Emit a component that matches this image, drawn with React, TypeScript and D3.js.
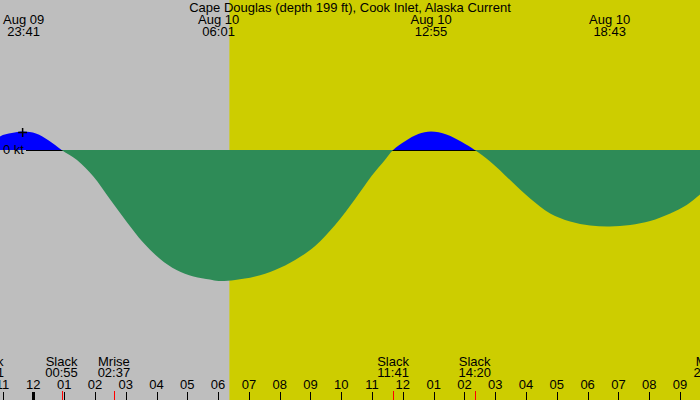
import React from 'react';
import * as d3 from 'd3';

const TITLE = "Cape Douglas (depth 199 ft), Cook Inlet, Alaska Current";

// visible time window and daylight
const WINDOW = ["08-09 22:55", "08-10 21:39"];
const SUNRISE = "08-10 06:22";
const SUNSET = "08-10 22:05";

// current speed (kt, flood positive)
const speedTimes = [
  "08-09 22:31", "08-09 22:55", "08-09 23:18", "08-09 23:41", "08-10 00:05",
  "08-10 00:30", "08-10 00:55", "08-10 01:25", "08-10 01:57", "08-10 02:29",
  "08-10 03:02", "08-10 03:34", "08-10 04:07", "08-10 04:39", "08-10 05:12",
  "08-10 05:44", "08-10 06:01", "08-10 06:33", "08-10 07:12", "08-10 07:51",
  "08-10 08:30", "08-10 09:09", "08-10 09:48", "08-10 10:27", "08-10 10:59",
  "08-10 11:25", "08-10 11:41", "08-10 12:05", "08-10 12:30", "08-10 12:55",
  "08-10 13:25", "08-10 13:55", "08-10 14:20", "08-10 14:50", "08-10 15:29",
  "08-10 16:08", "08-10 16:47", "08-10 17:26", "08-10 18:05", "08-10 18:43",
  "08-10 19:23", "08-10 20:02", "08-10 20:41", "08-10 21:13", "08-10 21:39",
  "08-10 22:10",
];
const speedValues = [
  0, 0.27, 0.34, 0.37, 0.33,
  0.19, 0, -0.20, -0.53, -0.98,
  -1.44, -1.85, -2.18, -2.40, -2.53,
  -2.59, -2.62, -2.60, -2.53, -2.40,
  -2.20, -1.92, -1.50, -0.98, -0.52,
  -0.20, 0, 0.18, 0.32, 0.37,
  0.31, 0.16, 0, -0.23, -0.60,
  -0.97, -1.27, -1.43, -1.51, -1.53,
  -1.50, -1.42, -1.27, -1.10, -0.89,
  -0.62,
];

// max flood / max ebb labels along the top
const peakTimes = ["08-09 23:41", "08-10 06:01", "08-10 12:55", "08-10 18:43"];
const peakDays = ["Aug 09", "Aug 10", "Aug 10", "Aug 10"];

// slack water and moon events along the bottom
const eventTimes = ["08-09 22:31", "08-10 00:55", "08-10 02:37", "08-10 11:41", "08-10 14:20", "08-10 21:58"];
const eventNames = ["Slack", "Slack", "Mrise", "Slack", "Slack", "Mset"];

const parse = d3.utcParse("%m-%d %H:%M");
const hm = d3.utcFormat("%H:%M");
const hourFmt = d3.utcFormat("%I");

const W = 700;
const H = 400;
const FONT = "Liberation Sans, Arial, sans-serif";

export default function App() {
  const x = d3.scaleUtc()
    .domain(WINDOW.map(s => parse(s)!))
    .range([0, W]);
  const y = d3.scaleLinear().domain([1, -3]).range([100, 300]);
  const y0 = y(0);

  const pts = speedTimes.map((t, i) => ({ t: parse(t)!, v: speedValues[i] }));
  const area = d3.area<{ t: Date; v: number }>()
    .x(d => x(d.t))
    .y0(y0)
    .y1(d => y(d.v))
    .curve(d3.curveCatmullRom.alpha(0.5));
  const areaPath = area(pts) || "";

  const hours = x.ticks(d3.utcHour.every(1)!);
  const dayX0 = x(parse(SUNRISE)!);
  const dayX1 = Math.min(W, x(parse(SUNSET)!));

  const firstPeak = parse(peakTimes[0])!;
  const firstPeakV = speedValues[speedTimes.indexOf(peakTimes[0])];
  const px0 = x(firstPeak) - 1;
  const py0 = y(firstPeakV) + 1;

  return (
    <svg width={W} height={H} style={{ position: "absolute", left: 0, top: 0, display: "block" }}
      fontFamily={FONT} fontSize={13}>
      <defs>
        <clipPath id="flood"><rect x={0} y={0} width={W} height={y0} /></clipPath>
        <clipPath id="ebb"><rect x={0} y={y0} width={W} height={H - y0} /></clipPath>
      </defs>
      <rect x={0} y={0} width={W} height={H} fill="#bebebe" />
      <rect x={dayX0} y={0} width={dayX1 - dayX0} height={H} fill="#cdcd00" />

      <line x1={26} x2={W} y1={y0 + 0.5} y2={y0 + 0.5} stroke="#000" strokeWidth={1} />
      <path d={areaPath} fill="#0000ff" clipPath="url(#flood)" />
      <path d={areaPath} fill="#2e8b57" clipPath="url(#ebb)" />
      <text x={3} y={y0 + 4}>0 kt</text>

      <g stroke="#000" strokeWidth={1.5}>
        <line x1={px0 - 4.5} x2={px0 + 4.5} y1={py0} y2={py0} />
        <line x1={px0} x2={px0} y1={py0 - 4.5} y2={py0 + 4.5} />
      </g>

      <text x={W / 2} y={12} textAnchor="middle">{TITLE}</text>
      {peakTimes.map((t, i) => {
        const d = parse(t)!;
        return (
          <g key={t} textAnchor="middle">
            <text x={x(d)} y={24}>{peakDays[i]}</text>
            <text x={x(d)} y={36}>{hm(d)}</text>
          </g>
        );
      })}

      {eventTimes.map((t, i) => {
        const d = parse(t)!;
        return (
          <g key={t}>
            <text x={x(d)} y={366} textAnchor="middle">{eventNames[i]}</text>
            <text x={x(d)} y={377} textAnchor="middle">{hm(d)}</text>
            <line x1={Math.round(x(d)) + 0.5} x2={Math.round(x(d)) + 0.5} y1={391} y2={H} stroke="#ff0000" />
          </g>
        );
      })}

      {hours.map(h => {
        const px = Math.round(x(h)) + 0.5;
        const midnight = h.getUTCHours() === 0;
        return (
          <g key={+h}>
            <text x={x(h)} y={389} textAnchor="middle">{hourFmt(h)}</text>
            <line x1={px} x2={px} y1={392} y2={H} stroke="#000" strokeWidth={midnight ? 3 : 1} />
          </g>
        );
      })}
    </svg>
  );
}
